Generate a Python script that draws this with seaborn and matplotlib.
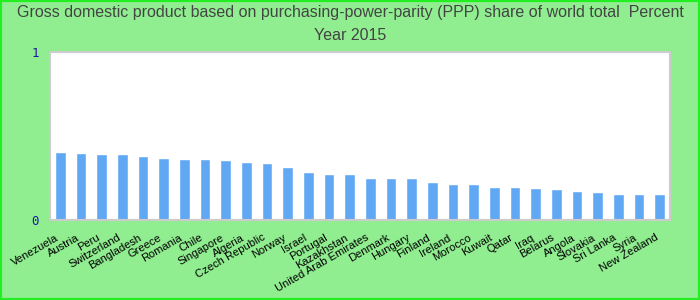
import matplotlib
matplotlib.use("Agg")
import matplotlib.pyplot as plt
import seaborn as sns
import pandas as pd
from matplotlib.patches import Rectangle

countries = ["Venezuela", "Austria", "Peru", "Switzerland", "Bangladesh", "Greece",
             "Romania", "Chile", "Singapore", "Algeria", "Czech Republic", "Norway",
             "Israel", "Portugal", "Kazakhstan", "United Arab Emirates", "Denmark",
             "Hungary", "Finland", "Ireland", "Morocco", "Kuwait", "Qatar", "Iraq",
             "Belarus", "Angola", "Slovakia", "Sri Lanka", "Syria", "New Zealand"]
shares = [0.405, 0.399, 0.393, 0.393, 0.381, 0.369, 0.363, 0.363, 0.357, 0.345,
          0.339, 0.315, 0.286, 0.274, 0.274, 0.250, 0.250, 0.250, 0.226, 0.214,
          0.214, 0.196, 0.196, 0.190, 0.185, 0.173, 0.167, 0.155, 0.155, 0.155]
yticks = [0, 1]
title_lines = ["Gross domestic product based on purchasing-power-parity (PPP) share of world total  Percent",
               "Year 2015"]

df = pd.DataFrame({"country": countries, "share": shares})

sns.set_theme(style="white")
plt.rcParams["font.family"] = ["Liberation Sans", "DejaVu Sans"]

fig = plt.figure(figsize=(7, 3), dpi=100, facecolor="#90ee90")
ax = fig.add_axes([50/700, 1-220/300, 620/700, 168/300])
ax.set_facecolor("white")

sns.barplot(data=df, x="country", y="share", color="#60a8f4", saturation=1,
            width=0.53, ax=ax)

ax.set_ylim(0, 1)
ax.set_xlim(-0.5, len(countries) - 0.5)
ax.set_yticks(yticks)
ax.set_yticklabels([str(t) for t in yticks], family="DejaVu Sans Mono",
                   color="#1a1aa0", fontsize=9)
ax.tick_params(axis="y", length=0, pad=8)
ax.tick_params(axis="x", length=0, pad=9)
for lbl in ax.get_xticklabels():
    lbl.set_rotation(30)
    lbl.set_ha("right")
    lbl.set_fontsize(8)
    lbl.set_color("black")
ax.set_xlabel("")
ax.set_ylabel("")
for s in ax.spines.values():
    s.set_color("#cccccc")
    s.set_linewidth(1.5)

fig.text(0.5, 1 - 12/300, title_lines[0], ha="center", va="center",
         fontsize=11.5, color="#444444")
fig.text(0.5, 1 - 36/300, title_lines[1], ha="center", va="center",
         fontsize=11.5, color="#444444")

fig.patches.append(Rectangle((0, 0), 1, 1, transform=fig.transFigure,
                             fill=False, edgecolor="#22ee22", linewidth=3,
                             zorder=10))

fig.savefig("out.png", dpi=100, facecolor=fig.get_facecolor())
